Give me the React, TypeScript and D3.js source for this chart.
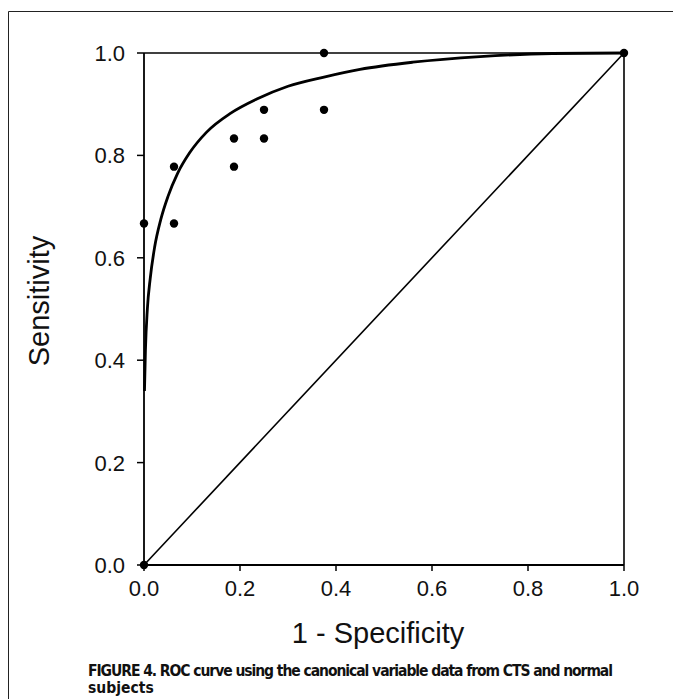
import React from "react";
import * as d3 from "d3";

const tickValues = [0, 0.2, 0.4, 0.6, 0.8, 1.0];
const tickLabels = ["0.0", "0.2", "0.4", "0.6", "0.8", "1.0"];

// empirical ROC points (1 - specificity, sensitivity)
const pointX = [0, 0, 0.0625, 0.0625, 0.1875, 0.1875, 0.25, 0.25, 0.375, 0.375, 1.0];
const pointY = [0, 0.667, 0.667, 0.778, 0.778, 0.833, 0.833, 0.889, 0.889, 1.0, 1.0];

// fitted smooth ROC curve
const curveX = [0.001, 0.003, 0.007, 0.013, 0.022, 0.035, 0.05, 0.07, 0.095, 0.13, 0.18, 0.235, 0.3, 0.375, 0.45, 0.56, 0.7, 0.85, 1.0];
const curveY = [0.34, 0.42, 0.5, 0.56, 0.62, 0.675, 0.72, 0.765, 0.805, 0.845, 0.882, 0.91, 0.935, 0.953, 0.968, 0.982, 0.993, 0.999, 1.0];

const xTitle = "1 - Specificity";
const yTitle = "Sensitivity";
const captionLine1 = "FIGURE 4. ROC curve using the canonical variable data from CTS and normal";
const captionLine2 = "subjects";

export default function App() {
  const W = 673;
  const H = 699;
  const x = d3.scaleLinear().domain([0, 1]).range([144, 624]);
  const y = d3.scaleLinear().domain([0, 1]).range([565, 53]);

  const curvePts: [number, number][] = curveX.map((v, i) => [x(v), y(curveY[i])]);
  const curvePath = d3.line().curve(d3.curveMonotoneX)(curvePts) || "";
  const diag = d3.line()([[x(0), y(0)], [x(1), y(1)]]) || "";

  const sans = "'Liberation Sans', Arial, Helvetica, sans-serif";
  const narrow = "'Liberation Sans Narrow', 'DejaVu Sans Condensed', 'Liberation Sans', sans-serif";

  return (
    <div style={{ position: "absolute", left: 0, top: 0 }}>
      <svg width={W} height={H} style={{ display: "block", background: "#fff" }}>
        {/* outer frame (left and top) */}
        <line x1={8.5} y1={11.5} x2={673} y2={11.5} stroke="#222" strokeWidth={1} />
        <line x1={8.5} y1={11.5} x2={8.5} y2={699} stroke="#222" strokeWidth={1} />

        {/* plot box */}
        <line x1={x(0)} y1={y(1)} x2={x(1)} y2={y(1)} stroke="#000" strokeWidth={1.6} />
        <line x1={x(1)} y1={y(1)} x2={x(1)} y2={y(0)} stroke="#000" strokeWidth={1.6} />
        <line x1={x(0)} y1={y(0)} x2={x(1)} y2={y(0)} stroke="#000" strokeWidth={1.8} />
        <line x1={x(0)} y1={y(0)} x2={x(0)} y2={y(1)} stroke="#000" strokeWidth={1.8} />

        {/* y ticks */}
        {tickValues.map((v, i) => (
          <g key={"yt" + i}>
            <line x1={x(0) - 7} x2={x(0)} y1={y(v)} y2={y(v)} stroke="#000" strokeWidth={1.5} />
            <text x={x(0) - 19} y={y(v)} dy="0.36em" textAnchor="end" fontFamily={sans} fontSize={22} fill="#111">
              {tickLabels[i]}
            </text>
          </g>
        ))}
        {/* x ticks */}
        {tickValues.map((v, i) => (
          <g key={"xt" + i}>
            <line x1={x(v)} x2={x(v)} y1={y(0)} y2={y(0) + 6} stroke="#000" strokeWidth={1.5} />
            <text x={x(v)} y={y(0) + 31} textAnchor="middle" fontFamily={sans} fontSize={22} fill="#111">
              {tickLabels[i]}
            </text>
          </g>
        ))}

        {/* diagonal */}
        <path d={diag} fill="none" stroke="#000" strokeWidth={1.6} />
        {/* fitted curve */}
        <path d={curvePath} fill="none" stroke="#000" strokeWidth={2.8} />
        {/* points */}
        {pointX.map((v, i) => (
          <circle key={"p" + i} cx={x(v)} cy={y(pointY[i])} r={4.2} fill="#000" />
        ))}

        {/* axis titles */}
        <text x={378} y={643} textAnchor="middle" fontFamily={sans} fontSize={29} fill="#111">
          {xTitle}
        </text>
        <text transform={`translate(49,${(y(0) + y(1)) / 2 - 8}) rotate(-90)`} textAnchor="middle" fontFamily={sans} fontSize={29} fill="#111">
          {yTitle}
        </text>

        {/* caption */}
        <text x={88} y={676} fontFamily={narrow} fontWeight="bold" fontSize={15.5} fill="#111" textLength={525} lengthAdjust="spacing">
          {captionLine1}
        </text>
        <text x={88} y={693} fontFamily={narrow} fontWeight="bold" fontSize={15.5} fill="#111">
          {captionLine2}
        </text>
      </svg>
    </div>
  );
}
